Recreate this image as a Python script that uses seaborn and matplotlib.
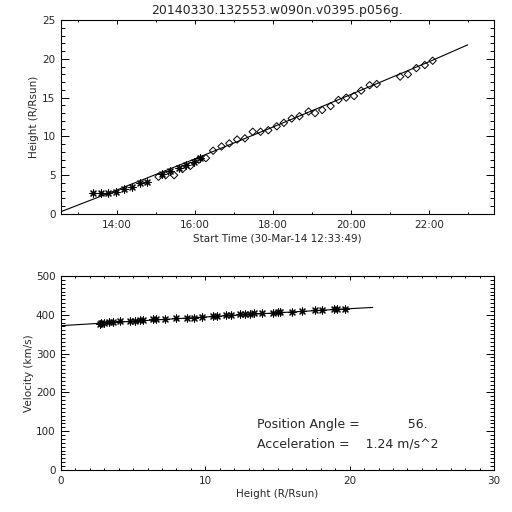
import matplotlib
matplotlib.use("Agg")
import numpy as np
import pandas as pd
import seaborn as sns
import matplotlib.pyplot as plt
from matplotlib.ticker import FixedLocator, MultipleLocator, FuncFormatter

# ---------------- data ----------------
title = "20140330.132553.w090n.v0395.p056g."
start_time = "12:33:49"
start_date = "30-Mar-14"

# height-time: asterisks
star_times = ["13:23", "13:35", "13:46", "13:58", "14:11", "14:23", "14:35", "14:46",
              "15:09", "15:22", "15:35", "15:47", "15:58", "16:08"]
star_heights = [2.7, 2.7, 2.75, 2.85, 3.2, 3.5, 4.0, 4.1,
                5.1, 5.5, 5.9, 6.35, 6.75, 7.2]

# height-time: diamonds
diam_times = ["15:04", "15:15", "15:28", "15:41", "15:53", "16:06", "16:17", "16:28",
              "16:41", "16:53", "17:05", "17:17", "17:29", "17:41", "17:53", "18:06",
              "18:17", "18:29", "18:41", "18:55", "19:05", "19:16", "19:29", "19:41",
              "19:53", "20:05", "20:16", "20:29", "20:40", "21:16", "21:28", "21:41",
              "21:54", "22:06"]
diam_heights = [4.8, 5.0, 5.0, 5.8, 6.2, 7.0, 7.2, 8.15,
                8.7, 9.1, 9.6, 9.75, 10.6, 10.6, 10.8, 11.3,
                11.75, 12.3, 12.6, 13.2, 13.0, 13.4, 13.9, 14.7,
                15.0, 15.2, 15.9, 16.6, 16.75, 17.7, 18.0, 18.8,
                19.2, 19.75]

# fitted height-time curve
fit_times = ["12:33:49", "14:00", "16:00", "18:00", "20:00", "22:00", "23:00"]
fit_heights = [0.3, 3.1, 7.1, 11.2, 15.4, 19.6, 21.8]

# velocity vs height
vel_heights = [2.7, 2.8, 2.95, 3.3, 3.6, 4.1, 4.8, 5.1, 5.5, 5.7, 6.4, 6.6, 7.2, 8.0,
               8.7, 9.2, 9.75, 10.55, 10.8, 11.4, 11.8, 12.4, 12.75, 13.1, 13.35, 13.9,
               14.7, 15.05, 15.2, 16.0, 16.7, 17.6, 18.1, 18.9, 19.1, 19.7]
velocities = [377, 378, 380, 381, 381, 383, 385, 385, 387, 387, 389, 389, 390, 392,
              392, 393, 395, 397, 398, 399, 400, 401, 402, 403, 404, 404,
              405, 406, 406, 408, 409, 412, 412, 415, 415, 415]

fit_vel_heights = [0.0, 3.1, 7.1, 11.2, 15.4, 19.6, 21.6]
fit_velocities = [372, 379, 388, 397, 406, 415, 419]

time_tick_labels = ["14:00", "16:00", "18:00", "20:00", "22:00"]
time_minor_labels = ["13:00", "15:00", "17:00", "19:00", "21:00", "23:00"]

pa_text = "Position Angle =            56."
acc_text = "Acceleration =    1.24 m/s^2"


def clock_to_sec(s):
    parts = [int(p) for p in s.split(":")]
    while len(parts) < 3:
        parts.append(0)
    return parts[0] * 3600 + parts[1] * 60 + parts[2]


T0 = clock_to_sec(start_time)


def rel(s):
    return clock_to_sec(s) - T0


def sec_to_clock(x, pos=None):
    t = int(round(x + T0)) % 86400
    return "%02d:%02d" % (t // 3600, (t % 3600) // 60)


star_df = pd.DataFrame({"t": [rel(s) for s in star_times], "h": star_heights})
diam_df = pd.DataFrame({"t": [rel(s) for s in diam_times], "h": diam_heights})
fit_df = pd.DataFrame({"t": [rel(s) for s in fit_times], "h": fit_heights})
vel_df = pd.DataFrame({"h": vel_heights, "v": velocities})
fitv_df = pd.DataFrame({"h": fit_vel_heights, "v": fit_velocities})

# ---------------- style ----------------
sns.set_style("ticks")
plt.rcParams["font.family"] = ["DejaVu Sans"]
plt.rcParams["axes.linewidth"] = 0.8
plt.rcParams["xtick.direction"] = "in"
plt.rcParams["ytick.direction"] = "in"

W = 512.0
fig = plt.figure(figsize=(5.12, 5.12), dpi=100, facecolor="white")

tick_fs = 7.5


def style_axes(ax, xmaj_len, ymaj_len):
    for s in ax.spines.values():
        s.set_visible(True)
        s.set_color("black")
        s.set_linewidth(0.8)
    ax.tick_params(which="both", direction="in", top=True, right=True,
                   color="black", width=0.7, labelsize=tick_fs, pad=4)
    ax.tick_params(axis="x", which="major", length=xmaj_len)
    ax.tick_params(axis="x", which="minor", length=xmaj_len * 0.6)
    ax.tick_params(axis="y", which="major", length=ymaj_len)
    ax.tick_params(axis="y", which="minor", length=ymaj_len * 0.5)
    ax.set_facecolor("white")


# ---------------- top panel ----------------
ax1 = fig.add_axes([61 / W, 1 - 214 / W, 433 / W, 194 / W])
sns.lineplot(data=fit_df, x="t", y="h", ax=ax1, color="black", linewidth=0.8,
             sort=False, estimator=None)
sns.scatterplot(data=star_df, x="t", y="h", ax=ax1, marker=(8, 2, 0), s=26,
                color="black", linewidth=0.8, zorder=3)
sns.scatterplot(data=diam_df, x="t", y="h", ax=ax1, marker="D", s=14,
                facecolor="none", edgecolor="black", linewidth=0.7, zorder=3)
ax1.set_xlim(0, 40000)
ax1.set_ylim(0, 25)
ax1.xaxis.set_major_locator(FixedLocator([rel(s) for s in time_tick_labels]))
ax1.xaxis.set_minor_locator(FixedLocator([rel(s) for s in time_minor_labels]))
ax1.xaxis.set_major_formatter(FuncFormatter(sec_to_clock))
ax1.yaxis.set_major_locator(MultipleLocator(5))
ax1.yaxis.set_minor_locator(MultipleLocator(1))
style_axes(ax1, 3.0, 6.0)
ax1.set_xlabel("Start Time (%s %s)" % (start_date, start_time), fontsize=tick_fs, labelpad=2.5)
ax1.set_ylabel("Height (R/Rsun)", fontsize=tick_fs, labelpad=2)
ax1.set_title(title, fontsize=9, pad=4)

# ---------------- bottom panel ----------------
ax2 = fig.add_axes([61 / W, 1 - 470 / W, 433 / W, 194 / W])
sns.lineplot(data=fitv_df, x="h", y="v", ax=ax2, color="black", linewidth=0.8,
             sort=False, estimator=None)
sns.scatterplot(data=vel_df, x="h", y="v", ax=ax2, marker=(8, 2, 0), s=26,
                color="black", linewidth=0.8, zorder=3)
ax2.set_xlim(0, 30)
ax2.set_ylim(0, 500)
ax2.xaxis.set_major_locator(MultipleLocator(10))
ax2.xaxis.set_minor_locator(MultipleLocator(1))
ax2.yaxis.set_major_locator(MultipleLocator(100))
ax2.yaxis.set_minor_locator(MultipleLocator(10))
style_axes(ax2, 3.0, 6.0)
ax2.set_xlabel("Height (R/Rsun)", fontsize=tick_fs, labelpad=2.5)
ax2.set_ylabel("Velocity (km/s)", fontsize=tick_fs, labelpad=1)

ax2.text(0.453, 0.232, pa_text, transform=ax2.transAxes, fontsize=9,
         ha="left", va="center")
ax2.text(0.453, 0.134, acc_text, transform=ax2.transAxes, fontsize=9,
         ha="left", va="center")

fig.savefig("out.png", dpi=100, facecolor="white")
